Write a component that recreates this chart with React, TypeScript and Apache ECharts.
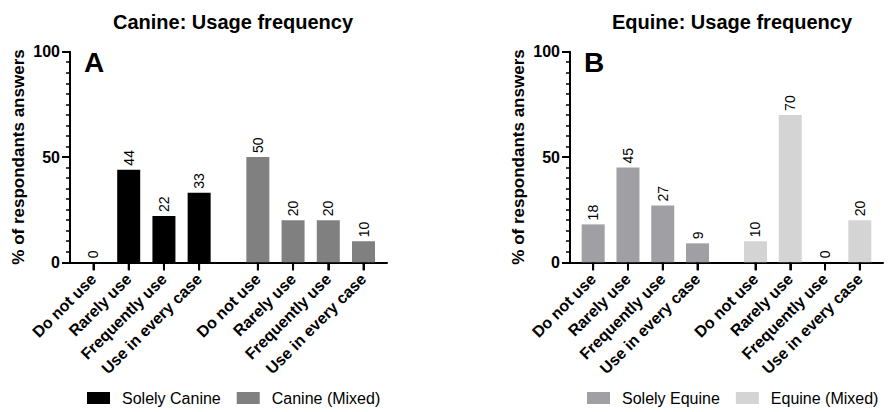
import React, { useEffect, useRef } from "react";
import * as echarts from "echarts";

const categories = ["Do not use", "Rarely use", "Frequently use", "Use in every case"];
const solelyCanine = [0, 44, 22, 33];
const canineMixed = [50, 20, 20, 10];
const solelyEquine = [18, 45, 27, 9];
const equineMixed = [10, 70, 0, 20];
const yTicks = [0, 50, 100];

const FONT = "'Liberation Sans', Arial, Helvetica, sans-serif";

// The x axis is a fine category grid: one bar every 3 slots, a wider gap
// between the two groups and some padding at both ends.
const SLOT_COUNT = 28;
const LEAD_SLOTS = 2;
const STEP_SLOTS = 3;
const GROUP_SLOTS = 14;
const slotOf = (i: number, g: number) => LEAD_SLOTS + STEP_SLOTS * i + GROUP_SLOTS * g;
const slotIds = Array.from({ length: SLOT_COUNT }, (_, k) => `slot${k}`);
const tickSlots = [0, 1].flatMap((g) => categories.map((_, i) => slotOf(i, g)));

const labelForSlot = (k: number) => {
  const idx = tickSlots.indexOf(k);
  return idx < 0 ? "" : categories[idx % categories.length];
};

const toSlots = (vals: number[], g: number) => {
  const out: (number | null)[] = new Array(SLOT_COUNT).fill(null);
  vals.forEach((v, i) => {
    out[slotOf(i, g)] = v;
  });
  return out;
};

function xAxisFor(gridIndex: number) {
  return {
    type: "category",
    gridIndex,
    data: slotIds,
    boundaryGap: false,
    splitLine: { show: false },
    axisLine: { show: true, lineStyle: { color: "#000", width: 2 } },
    axisTick: {
      show: true,
      interval: (index: number) => tickSlots.includes(index),
      length: 8,
      lineStyle: { color: "#000", width: 2 },
    },
    axisLabel: {
      show: true,
      interval: (index: number) => tickSlots.includes(index),
      rotate: 45,
      margin: 14,
      formatter: (_v: string, index: number) => labelForSlot(index),
      fontFamily: FONT,
      fontWeight: "bold",
      fontSize: 16,
      color: "#000",
    },
  };
}

function yAxisFor(gridIndex: number) {
  return {
    type: "value",
    gridIndex,
    min: yTicks[0],
    max: yTicks[yTicks.length - 1],
    interval: yTicks[1] - yTicks[0],
    name: "% of respondants answers",
    nameLocation: "middle",
    nameGap: 43,
    nameTextStyle: { fontFamily: FONT, fontWeight: "bold", fontSize: 17, color: "#000" },
    splitLine: { show: false },
    axisLine: { show: true, lineStyle: { color: "#000", width: 2 } },
    axisTick: { show: true, length: 8, lineStyle: { color: "#000", width: 2 } },
    minorTick: { show: true, splitNumber: 10, length: 4, lineStyle: { color: "#000", width: 1.5 } },
    minorSplitLine: { show: false },
    axisLabel: {
      margin: 10,
      fontFamily: FONT,
      fontWeight: "bold",
      fontSize: 16,
      color: "#000",
    },
  };
}

function barSeries(name: string, vals: number[], g: number, axisIndex: number, color: string) {
  return {
    name,
    type: "bar",
    xAxisIndex: axisIndex,
    yAxisIndex: axisIndex,
    data: toSlots(vals, g),
    barWidth: 23,
    barGap: "-100%",
    itemStyle: { color },
    label: {
      show: true,
      position: "top",
      rotate: 90,
      align: "left",
      verticalAlign: "middle",
      distance: 4,
      fontFamily: FONT,
      fontSize: 14,
      color: "#000",
    },
  };
}

// Category tick marks below the x axis, one per bar slot
function tickSeries(axisIndex: number) {
  return {
    type: "custom",
    xAxisIndex: axisIndex,
    yAxisIndex: axisIndex,
    silent: true,
    clip: false,
    z: 5,
    data: tickSlots.map((s) => [s, 0]),
    renderItem: (_params: any, api: any) => {
      const p = api.coord([api.value(0), 0]);
      return {
        type: "line",
        shape: { x1: p[0], y1: p[1], x2: p[0], y2: p[1] + 8 },
        style: { stroke: "#000", lineWidth: 2 },
      };
    },
  };
}

function legendFor(names: string[], left: number) {
  return {
    data: names,
    left,
    top: 390,
    orient: "horizontal",
    padding: 0,
    itemWidth: 23,
    itemHeight: 12,
    itemGap: 16,
    icon: "rect",
    textStyle: { fontFamily: FONT, fontSize: 16, color: "#000", padding: [0, 0, 0, 7] },
  };
}

export default function App() {
  const ref = useRef<HTMLDivElement>(null);

  useEffect(() => {
    if (!ref.current) return;
    const chart = echarts.init(ref.current, null, { renderer: "svg" });
    chart.setOption({
      animation: false,
      backgroundColor: "#fff",
      title: [
        {
          text: "Canine: Usage frequency",
          left: 228,
          top: 7,
          textAlign: "center",
          textStyle: { fontFamily: FONT, fontWeight: "bold", fontSize: 20, color: "#000" },
        },
        {
          text: "Equine: Usage frequency",
          left: 727,
          top: 7,
          textAlign: "center",
          textStyle: { fontFamily: FONT, fontWeight: "bold", fontSize: 20, color: "#000" },
        },
      ],
      grid: [
        { left: 70, top: 51.7, width: 317, height: 210.6, containLabel: false, outerBoundsMode: "none" },
        { left: 570, top: 51.7, width: 313, height: 210.6, containLabel: false, outerBoundsMode: "none" },
      ],
      xAxis: [xAxisFor(0), xAxisFor(1)],
      yAxis: [yAxisFor(0), yAxisFor(1)],
      legend: [
        legendFor(["Solely Canine", "Canine (Mixed)"], 87),
        legendFor(["Solely Equine", "Equine (Mixed)"], 587),
      ],
      graphic: [
        {
          type: "text",
          left: 84,
          top: 48,
          style: { text: "A", fontFamily: FONT, fontWeight: "bold", fontSize: 28, fill: "#000" },
        },
        {
          type: "text",
          left: 584,
          top: 48,
          style: { text: "B", fontFamily: FONT, fontWeight: "bold", fontSize: 28, fill: "#000" },
        },
      ],
      series: [
        barSeries("Solely Canine", solelyCanine, 0, 0, "#000000"),
        barSeries("Canine (Mixed)", canineMixed, 1, 0, "#808080"),
        barSeries("Solely Equine", solelyEquine, 0, 1, "#a0a0a4"),
        barSeries("Equine (Mixed)", equineMixed, 1, 1, "#d4d4d4"),
        tickSeries(0),
        tickSeries(1),
      ],
    });
    return () => chart.dispose();
  }, []);

  return (
    <div
      ref={ref}
      style={{ position: "fixed", left: 0, top: 0, width: 889, height: 412, background: "#fff" }}
    />
  );
}
